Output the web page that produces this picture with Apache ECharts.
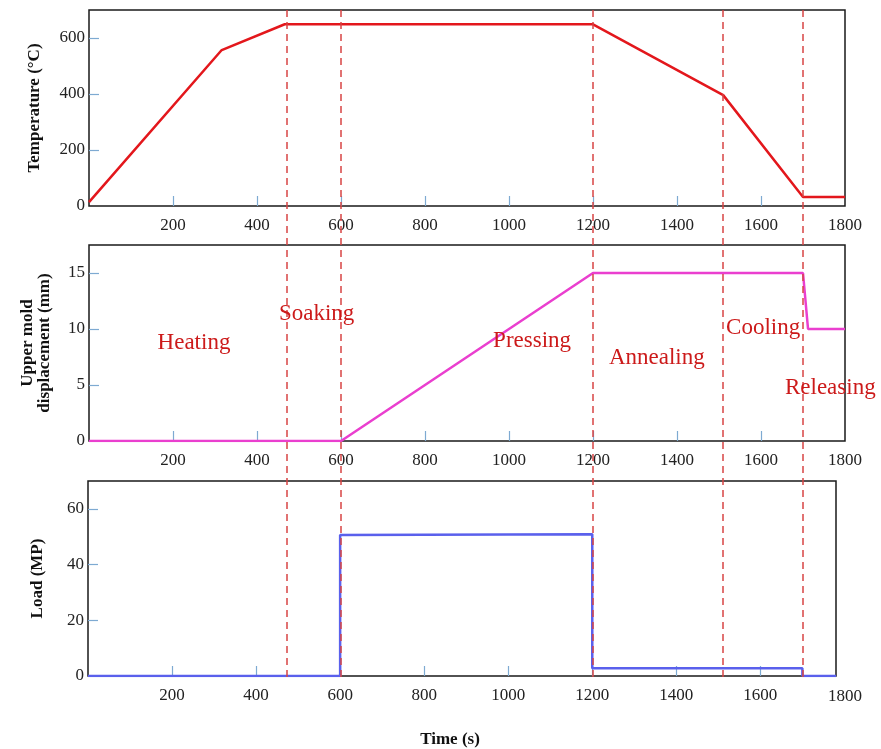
<!DOCTYPE html>
<html><head><meta charset="utf-8">
<script src="https://cdn.jsdelivr.net/npm/echarts@6/dist/echarts.min.js"></script>
<style>html,body{margin:0;padding:0;background:#fff}#c{width:881px;height:749px}</style>
</head><body><div id="c"></div>
<script>
// ---- data ----
const tempTime  = [0, 316, 466, 1200, 1510, 1700, 1800];
const tempValue = [14, 557, 649, 649, 396, 32, 32];
const dispTime  = [0, 600, 1200, 1700, 1712, 1800];
const dispValue = [0, 0, 15, 15, 10, 10];
const loadTime  = [0, 600, 600, 1200, 1200, 1700, 1700, 1780];
const loadValue = [0, 0, 50.6, 50.9, 2.8, 2.8, 0, 0];
const phaseBounds = [470, 600, 1200, 1510, 1700];
const phaseLabels = ['Heating', 'Soaking', 'Pressing', 'Annealing', 'Cooling', 'Releasing'];
const phaseLabelTime = [250, 542, 1055, 1352, 1605, 1765];
const phaseLabelDisp = [8.75, 11.3, 8.9, 7.45, 10.1, 4.7];
const timeTicks  = [200, 400, 600, 800, 1000, 1200, 1400, 1600];
const timeLabels = [200, 400, 600, 800, 1000, 1200, 1400, 1600, 1800];
const tempTicks = [0, 200, 400, 600];
const dispTicks = [0, 5, 10, 15];
const loadTicks = [0, 20, 40, 60];

const zip = (a, b) => a.map((v, i) => [v, b[i]]);
const FONT = '"Liberation Serif", "Times New Roman", serif';
const tickColor = '#7eaad2';
const labelStyle = { fontFamily: FONT, fontSize: 17, color: '#222', formatter: v => String(v) };
const nameStyle = { fontFamily: FONT, fontSize: 17, fontWeight: 'bold', color: '#111' };

function xAx(gridIndex, max, labels) {
  return {
    type: 'value', gridIndex, min: 0, max,
    axisLine: { show: false }, splitLine: { show: false },
    axisTick: { show: true, inside: true, length: 10, customValues: timeTicks, lineStyle: { color: tickColor, width: 1.2 } },
    axisLabel: Object.assign({ customValues: labels, margin: 11 }, labelStyle)
  };
}
function yAx(gridIndex, max, ticks, name, gap) {
  return {
    type: 'value', gridIndex, min: 0, max,
    name, nameLocation: 'middle', nameGap: gap, nameTextStyle: nameStyle,
    axisLine: { show: false }, splitLine: { show: false },
    axisTick: { show: true, inside: true, length: 10, customValues: ticks.slice(1), lineStyle: { color: tickColor, width: 1.2 } },
    axisLabel: Object.assign({ customValues: ticks, margin: 4 }, labelStyle)
  };
}
const gridBase = { show: true, borderColor: '#1a1a1a', borderWidth: 1.5, backgroundColor: 'transparent' };

const chart = echarts.init(document.getElementById('c'), null, { renderer: 'canvas' });
chart.setOption({
  animation: false,
  grid: [
    Object.assign({ left: 89, top: 10, width: 756, height: 196 }, gridBase),
    Object.assign({ left: 89, top: 245, width: 756, height: 196 }, gridBase),
    Object.assign({ left: 88, top: 481, width: 748, height: 196 }, gridBase),
    { left: 89, top: 10, width: 756, height: 667, show: false }
  ],
  xAxis: [
    xAx(0, 1800, timeLabels),
    xAx(1, 1800, timeLabels),
    Object.assign(xAx(2, 1780, timeTicks), {
      name: 'Time (s)', nameLocation: 'middle', nameGap: 55,
      nameTextStyle: Object.assign({ padding: [0, 24, 0, 0] }, nameStyle)
    }),
    {
      type: 'value', gridIndex: 3, min: 0, max: 1800,
      axisLine: { show: false }, axisTick: { show: false }, splitLine: { show: false },
      axisLabel: Object.assign({ customValues: [1800], margin: 11 }, labelStyle)
    }
  ],
  yAxis: [
    yAx(0, 700, tempTicks, 'Temperature (°C)', 46),
    yAx(1, 17.5, dispTicks, 'Upper mold\ndisplacement (mm)', 36),
    yAx(2, 70, loadTicks, 'Load (MP)', 42),
    { type: 'value', gridIndex: 3, min: 0, max: 1, show: false }
  ],
  series: [
    { type: 'line', xAxisIndex: 0, yAxisIndex: 0, data: zip(tempTime, tempValue), symbol: 'none',
      lineStyle: { color: '#e3171c', width: 2.5 }, z: 3 },
    { type: 'line', xAxisIndex: 1, yAxisIndex: 1, data: zip(dispTime, dispValue), symbol: 'none',
      lineStyle: { color: '#ea3fcf', width: 2.5 }, z: 3 },
    { type: 'line', xAxisIndex: 2, yAxisIndex: 2, data: zip(loadTime, loadValue), symbol: 'none',
      lineStyle: { color: '#5a60ec', width: 2.5 }, z: 3 },
    { type: 'scatter', xAxisIndex: 1, yAxisIndex: 1, silent: true, z: 5,
      data: phaseLabels.map((n, i) => ({ name: n, value: [phaseLabelTime[i], phaseLabelDisp[i]] })),
      symbolSize: 1, itemStyle: { color: '#fff', opacity: 0 }, clip: false,
      label: { show: true, position: 'inside', formatter: p => p.name,
        fontFamily: FONT, fontSize: 23, color: '#cc1a1a', opacity: 1 } },
    { type: 'line', xAxisIndex: 3, yAxisIndex: 3, data: [], silent: true, z: 4,
      markLine: { silent: true, symbol: 'none', label: { show: false },
        lineStyle: { color: '#d84444', type: [7, 5], width: 1.5 },
        data: phaseBounds.map(v => ({ xAxis: v })) } }
  ]
});
</script></body></html>
